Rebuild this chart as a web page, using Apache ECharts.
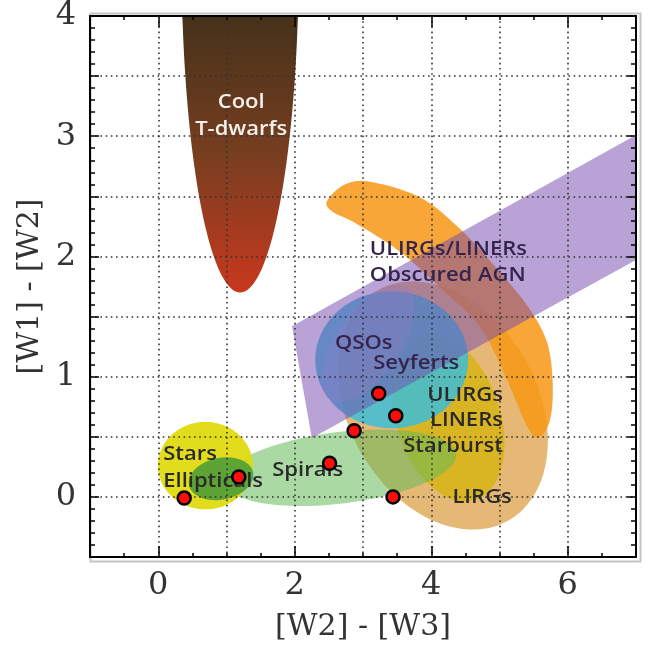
<!DOCTYPE html>
<html><head><meta charset="utf-8">
<script src="https://cdn.jsdelivr.net/npm/echarts@6/dist/echarts.min.js"></script>
<style>html,body{margin:0;padding:0;background:#fff}#c{width:655px;height:647px}</style>
</head><body><div id="c"></div>
<script>
// ---- axes ----
const xMin = -1, xMax = 7, yMin = -0.5, yMax = 4;
const xLabelValues = [0, 2, 4, 6];
const yLabelValues = [0, 1, 2, 3, 4];

// ---- regions (data units) ----
// ellipses: [cx, cy, ux, uy, vx, vy]  (centre + two conjugate half-axis vectors)
const coolDwarfEllipse = [1.2, 4.5, 0.86, 0, 0, 2.8];
const qsoEllipse = [3.42, 1.14, 1.12, 0, 0, 0.57];
const seyfertEllipse = [3.075, 1.276, 0.567, 0.465, 0.386, -0.150];
const lirgEllipse = [4.17, 0.76, 0.95, -0.96, 1.21, 0.38];
const starburstEllipse = [4.25, 0.655, 0.40, -0.68, 0.72, 0.14];
const spiralEllipse = [2.665, 0.242, 1.70, 0.118, 0.064, -0.295];
const starEllipse = [0.69, 0.26, 0.695, 0, 0, 0.364];
const ellipticalEllipse = [0.92, 0.151, 0.469, 0.054, 0.061, -0.170];

const obscuredAgnBand = [[1.96, 1.42], [2.25, 0.49], [7, 1.97], [7, 3.01]];
const ulirgLinerOutline = [[2.47, 2.46], [2.74, 2.60], [3.12, 2.62], [3.84, 2.49], [4.42, 2.23], [4.93, 1.92], [5.42, 1.58], [5.70, 1.28], [5.78, 0.93], [5.74, 0.64], [5.59, 0.50], [5.42, 0.57], [5.08, 1.01], [4.71, 1.42], [4.17, 1.72], [3.54, 2.04], [2.88, 2.28], [2.56, 2.37]];

// ---- sample points ----
const pointX = [0.38, 1.18, 2.51, 2.87, 3.23, 3.48, 3.44];
const pointY = [-0.01, 0.165, 0.28, 0.55, 0.86, 0.675, 0.0];

// ---- region labels ----
const labelText = ['Cool', 'T-dwarfs', 'ULIRGs/LINERs', 'Obscured AGN', 'QSOs', 'Seyferts', 'ULIRGs', 'LINERs', 'Starburst', 'LIRGs', 'Stars', 'Ellipticals', 'Spirals'];
const labelX = [1.215, 1.215, 3.10, 3.10, 2.59, 3.15, 5.05, 5.05, 5.05, 4.31, 0.073, 0.073, 2.19];
const labelY = [3.28, 3.055, 2.058, 1.845, 1.275, 1.11, 0.845, 0.633, 0.418, 0.0, 0.358, 0.129, 0.22];
const labelAlign = ['center', 'center', 'left', 'left', 'left', 'left', 'right', 'right', 'right', 'left', 'left', 'left', 'center'];

// ---------------------------------------------------------------
function ellipsePoints(e, n, capY) {
  const pts = [];
  for (let k = 0; k < n; k++) {
    const t = 2 * Math.PI * k / n;
    const c = Math.cos(t), s = Math.sin(t);
    let x = e[0] + e[2] * c + e[4] * s;
    let y = e[1] + e[3] * c + e[5] * s;
    if (capY != null) y = Math.min(y, capY);
    pts.push([x, y]);
  }
  return pts;
}

// closed Catmull-Rom curve through pixel points
function closedSpline(px, segs) {
  const n = px.length, out = [];
  for (let i = 0; i < n; i++) {
    const p0 = px[(i - 1 + n) % n], p1 = px[i], p2 = px[(i + 1) % n], p3 = px[(i + 2) % n];
    for (let s = 0; s < segs; s++) {
      const t = s / segs, t2 = t * t, t3 = t2 * t;
      const f = k => 0.5 * (2 * p1[k] + (-p0[k] + p2[k]) * t + (2 * p0[k] - 5 * p1[k] + 4 * p2[k] - p3[k]) * t2 + (-p0[k] + 3 * p1[k] - 3 * p2[k] + p3[k]) * t3);
      out.push([f(0), f(1)]);
    }
  }
  return out;
}

function regionSeries(pts, spline, fill, z) {
  return {
    type: 'custom', coordinateSystem: 'cartesian2d', xAxisIndex: 0, yAxisIndex: 0,
    z: z, silent: true, data: [[0, 0]],
    renderItem: function (params, api) {
      let points = pts.map(p => api.coord(p));
      if (spline) points = closedSpline(points, 10);
      return { type: 'polygon', shape: { points: points }, style: { fill: fill } };
    }
  };
}

const dwarfFill = new echarts.graphic.LinearGradient(0, 0, 0, 1, [
  { offset: 0, color: '#45321a' },
  { offset: 0.5, color: '#773e20' },
  { offset: 1, color: '#c9381e' }
]);

const purpleText = '#35254d';
const darkText = '#2a2a2a';
const labelColor = ['#f6f1ea', '#f6f1ea', purpleText, purpleText, purpleText, purpleText, darkText, darkText, darkText, darkText, darkText, darkText, darkText];

const serif = 'DejaVu Serif';
const tickStyle = { color: '#000', width: 1.5 };

const chart = echarts.init(document.getElementById('c'), null, { renderer: 'canvas' });
chart.setOption({
  animation: false,
  backgroundColor: '#fff',
  grid: { left: 90, right: 19, top: 13, bottom: 90, containLabel: false },
  graphic: [{
    type: 'rect', left: 88, top: 11, z: -10,
    shape: { width: 550, height: 548 },
    style: { fill: 'none', stroke: '#c4c4c4', lineWidth: 2 }
  }],
  xAxis: [
    {
      type: 'value', min: xMin, max: xMax, interval: 1, position: 'bottom', z: 5,
      axisLine: { show: true, onZero: false, lineStyle: { color: '#000', width: 2 } },
      axisTick: { show: true, inside: true, length: 4, lineStyle: tickStyle },
      minorTick: { show: true, splitNumber: 2, length: 4, lineStyle: tickStyle },
      axisLabel: { customValues: xLabelValues, fontFamily: serif, fontSize: 32, color: '#333', margin: 13 },
      splitLine: { show: true, lineStyle: { type: [1.6, 3.6], color: '#333', width: 1.6 } },
      name: '[W2] - [W3]', nameLocation: 'middle', nameGap: 55,
      nameTextStyle: { fontFamily: serif, fontSize: 30, color: '#333' }
    },
    {
      type: 'value', min: xMin, max: xMax, interval: 1, position: 'top', z: 5,
      axisLine: { show: true, onZero: false, lineStyle: { color: '#000', width: 2 } },
      axisTick: { show: true, inside: true, length: 4, lineStyle: tickStyle },
      minorTick: { show: true, splitNumber: 2, length: 4, lineStyle: tickStyle },
      axisLabel: { show: false }, splitLine: { show: false }
    },
    {
      type: 'value', min: xMin, max: xMax, interval: 1, position: 'bottom', z: 5,
      axisLine: { show: false, onZero: false },
      axisTick: { show: true, inside: true, length: 11, customValues: xLabelValues, lineStyle: tickStyle },
      axisLabel: { show: false }, splitLine: { show: false }
    },
    {
      type: 'value', min: xMin, max: xMax, interval: 1, position: 'top', z: 5,
      axisLine: { show: false, onZero: false },
      axisTick: { show: true, inside: true, length: 11, customValues: xLabelValues, lineStyle: tickStyle },
      axisLabel: { show: false }, splitLine: { show: false }
    }
  ],
  yAxis: [
    {
      type: 'value', min: yMin, max: yMax, interval: 0.5, position: 'left', z: 5,
      axisLine: { show: true, onZero: false, lineStyle: { color: '#000', width: 2 } },
      axisTick: { show: true, inside: true, length: 9, lineStyle: tickStyle },
      minorTick: { show: true, splitNumber: 5, length: 5, lineStyle: tickStyle },
      axisLabel: { customValues: yLabelValues, fontFamily: serif, fontSize: 32, color: '#333', margin: 14 },
      splitLine: { show: true, lineStyle: { type: [1.6, 3.6], color: '#333', width: 1.6 } },
      name: '[W1] - [W2]', nameLocation: 'middle', nameGap: 44,
      nameTextStyle: { fontFamily: serif, fontSize: 30, color: '#333' }
    },
    {
      type: 'value', min: yMin, max: yMax, interval: 0.5, position: 'right', z: 5,
      axisLine: { show: true, onZero: false, lineStyle: { color: '#000', width: 2 } },
      axisTick: { show: true, inside: true, length: 9, lineStyle: tickStyle },
      minorTick: { show: true, splitNumber: 5, length: 5, lineStyle: tickStyle },
      axisLabel: { show: false }, splitLine: { show: false }
    }
  ],
  series: [
    regionSeries(ellipsePoints(lirgEllipse, 90), false, 'rgba(222,160,72,0.75)', 2),
    regionSeries(ulirgLinerOutline, true, 'rgba(247,150,20,0.85)', 2),
    regionSeries(ellipsePoints(starburstEllipse, 90), false, 'rgba(212,180,0,0.7)', 2),
    regionSeries(ellipsePoints(spiralEllipse, 90), false, 'rgba(100,185,90,0.55)', 2),
    regionSeries(ellipsePoints(starEllipse, 90), false, 'rgba(222,218,10,0.92)', 2),
    regionSeries(ellipsePoints(ellipticalEllipse, 72), false, 'rgba(60,150,60,0.8)', 2),
    regionSeries(ellipsePoints(qsoEllipse, 90), false, 'rgba(60,190,215,0.85)', 2),
    regionSeries(ellipsePoints(seyfertEllipse, 72), false, 'rgba(190,175,225,0.3)', 2),
    regionSeries(obscuredAgnBand, false, 'rgba(115,71,173,0.5)', 2),
    regionSeries(ellipsePoints(coolDwarfEllipse, 160, yMax), false, dwarfFill, 2),
    {
      type: 'custom', coordinateSystem: 'cartesian2d', z: 20, silent: true,
      data: labelText.map((t, i) => [labelX[i], labelY[i]]),
      renderItem: function (params, api) {
        const i = params.dataIndex;
        const p = api.coord([labelX[i], labelY[i]]);
        return {
          type: 'text', x: p[0], y: p[1], scaleX: 1.1,
          style: {
            text: labelText[i], fill: labelColor[i],
            font: '600 20px "Open Sans"', align: labelAlign[i], verticalAlign: 'middle'
          }
        };
      }
    },
    {
      type: 'scatter', z: 30, symbol: 'circle', symbolSize: 13,
      data: pointX.map((x, i) => [x, pointY[i]]),
      itemStyle: { color: '#ff0d0d', borderColor: '#000', borderWidth: 2.5, opacity: 1 }
    }
  ]
});
</script></body></html>
